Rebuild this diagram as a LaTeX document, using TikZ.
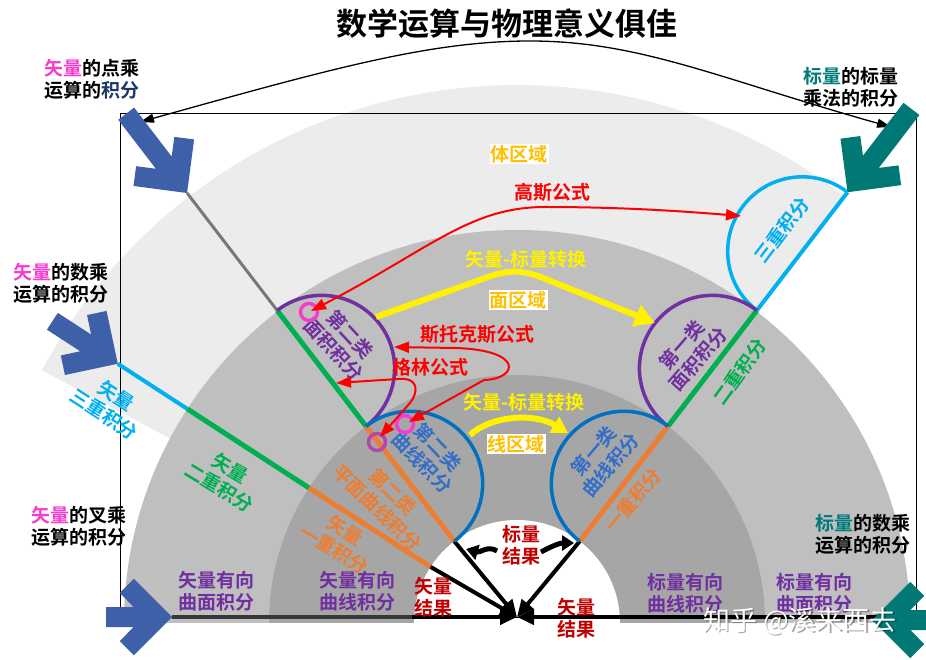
\documentclass[tikz,border=0pt]{standalone}
\usepackage{fontspec}
\setmainfont{Noto Sans CJK SC}[BoldFont={Noto Sans CJK SC Bold}]
\usetikzlibrary{arrows.meta,calc}
\definecolor{lgray}{RGB}{236,236,236}
\definecolor{mgray}{RGB}{191,191,191}
\definecolor{dgray}{RGB}{166,166,166}
\definecolor{linegray}{RGB}{120,120,120}
\definecolor{baseln}{RGB}{55,55,55}
\definecolor{magT}{RGB}{245,60,205}
\definecolor{tealT}{RGB}{0,122,122}
\definecolor{navyT}{RGB}{31,56,100}
\definecolor{purpleC}{RGB}{112,48,160}
\definecolor{blueC}{RGB}{0,112,192}
\definecolor{blueT}{RGB}{52,110,200}
\definecolor{cyanC}{RGB}{0,176,240}
\definecolor{greenC}{RGB}{0,176,80}
\definecolor{orangeC}{RGB}{237,125,49}
\definecolor{darkredT}{RGB}{192,0,0}
\definecolor{regionT}{RGB}{255,192,0}
\definecolor{arrowblue}{RGB}{62,96,168}
\definecolor{arrowteal}{RGB}{0,120,118}
\definecolor{pinkC}{RGB}{245,60,205}
\definecolor{pinkP}{RGB}{180,70,170}
\newcommand\blockarrow[4]{%
\begin{scope}[shift={#1},rotate=#2]
\fill[#4] (0,0) -- (-38.2,38.2) -- (-52.3,24.1) -- (-38.3,10) -- (-#3,10) -- (-#3,-10) -- (-38.3,-10) -- (-52.3,-24.1) -- (-38.2,-38.2) -- cycle;
\end{scope}}
\tikzset{
  lab/.style={font=\bfseries\fontsize{19}{22}\selectfont, align=center, inner sep=0pt},
  blk/.style={line width=4, black, -{Triangle[length=17pt,width=15pt]}},
  redarr/.style={line width=2, red, {Triangle[length=15pt,width=11pt]}-{Triangle[length=15pt,width=11pt]}},
  ylw/.style={line width=6, yellow, -{Triangle[length=20pt,width=22pt]}},
  curl/.style={line width=5, black, -{Triangle[length=12pt,width=15pt]}},
  semi/.style={line width=3.5},
  pink/.style={line width=3.5, pinkC}
}
\begin{document}
\begin{tikzpicture}[x=1pt,y=1pt,line join=round]
\useasboundingbox (0,0) rectangle (926,659);
\coordinate (C) at (517,36);
\coordinate (T) at (517,42);
\foreach \n/\a/\r in {A1/127.5/103, A2/127.5/248, A3/127.5/394, A4/127.5/542,
                      B1/52.5/103, B2/52.5/248, B3/52.5/394, B4/52.5/543,
                      D1/147/103, D2/147/248, D3/147/393, D4/147/476}
  \coordinate (\n) at ($(C)+(\a:\r)$);
% regions
\begin{scope}
\clip (0,37) rectangle (926,659);
\fill[lgray] (C) -- ($(C)+(52.5:538)$) arc[start angle=52.5,end angle=152,radius=538] -- cycle;
\fill[mgray] ($(C)+(393,0)$) arc[start angle=0,end angle=180,radius=393] -- cycle;
\fill[dgray] ($(C)+(248,0)$) arc[start angle=0,end angle=180,radius=248] -- cycle;
\fill[white] ($(C)+(103,0)$) arc[start angle=0,end angle=180,radius=103] -- cycle;
\end{scope}
% frame
\draw[line width=0.8] (120,42) rectangle (916,546);
% baseline
\coordinate (L1) at (172,42);
\coordinate (L0) at (412,42);
\coordinate (R0) at (913,42);
\draw[line width=4.5, baseln] (L1) -- (L0);
\draw[blk] (L0) -- (T);
\draw[blk] (R0) -- (T);
% radial lines
\draw[line width=3, linegray] (A3) -- (A4);
\draw[line width=5, greenC] (A2) -- (A3);
\draw[line width=5, orangeC] (A1) -- (A2);
\draw[blk] (A1) -- (T);
\draw[line width=4, cyanC] (B3) -- (B4);
\draw[line width=5, greenC] (B2) -- (B3);
\draw[line width=5, orangeC] (B1) -- (B2);
\draw[blk] (B1) -- (T);
\draw[line width=4, cyanC] (D3) -- (D4);
\draw[line width=5, greenC] (D2) -- (D3);
\draw[line width=5, orangeC] (D1) -- (D2);
\draw[blk] (D1) -- (T);
% semicircles
\draw[semi, cyanC] (B4) arc[start angle=52.5,end angle=232.5,radius=74.5];
\draw[semi, purpleC] (B3) arc[start angle=52.5,end angle=232.5,radius=73];
\draw[semi, blueC] (B2) arc[start angle=52.5,end angle=232.5,radius=72.5];
\draw[semi, purpleC] (A3) arc[start angle=127.5,end angle=-52.5,radius=73];
\draw[semi, blueC] (A2) arc[start angle=127.5,end angle=-52.5,radius=72.5];
% title and corner labels
\node[font=\bfseries\fontsize{31}{36}\selectfont, inner sep=0pt] (title) at (507,635) {数学运算与物理意义俱佳};
\node[lab] (tl) at (92,580) {{\color{magT}矢量}的点乘\\运算的{\color{navyT}积分}};
\node[lab] (tr) at (851,572) {{\color{tealT}标量}的标量\\乘法的积分};
\node[lab] (ml) at (61,376) {{\color{magT}矢量}的数乘\\运算的积分};
\node[lab] (ll) at (79,133) {{\color{magT}矢量}的叉乘\\运算的积分};
\node[lab] (lr) at (863,125) {{\color{tealT}标量}的数乘\\运算的积分};
% top arrow
\coordinate (TA) at (140,537);
\coordinate (TB) at (891,532);
\draw[line width=1.3, {Triangle[length=14pt,width=9pt]}-{Triangle[length=14pt,width=9pt]}]
  (TA) .. controls (330,590) and (430,618) .. (530,618) .. controls (640,618) and (720,580) .. (TB);
% region labels
\node[lab, text=regionT, fill=white, inner sep=1pt] (vol) at (519,505) {体区域};
\node[lab, text=regionT, fill=white, inner sep=1pt] (surf) at (518,359) {面区域};
\node[lab, text=regionT, fill=white, inner sep=1pt] (line) at (516,215) {线区域};
% rotated labels
\node[lab, text=cyanC, rotate=53] (t3r) at (782,429) {三重积分};
\node[lab, text=purpleC, rotate=49] (s1r) at (690,307) {第一类\\面积积分};
\node[lab, text=blueT, rotate=50] (c1r) at (602,201) {第一类\\曲线积分};
\node[lab, text=greenC, rotate=54] (d2r) at (740,287) {二重积分};
\node[lab, text=orangeC, rotate=50] (d1r) at (633,159) {一重积分};
\node[lab, text=purpleC, rotate=-47] (s2l) at (342,317) {第二类\\面积积分};
\node[lab, text=blueT, rotate=-46] (c2l) at (430,204) {第二类\\曲线积分};
\node[lab, text=orangeC, rotate=-44] (p2l) at (385,159) {第二类\\平面曲线积分};
\node[lab, text=orangeC, rotate=-31] (v1l) at (340,119) {矢量\\一重积分};
\node[lab, text=greenC, rotate=-31] (v2l) at (225,181) {矢量\\二重积分};
\node[lab, text=cyanC, rotate=-33] (v3l) at (110,254) {矢量\\三重积分};
% bottom labels
\node[lab, text=purpleC] (b1) at (216,68) {矢量有向\\曲面积分};
\node[lab, text=purpleC] (b2) at (357,68) {矢量有向\\曲线积分};
\node[lab, text=purpleC] (b3) at (685,66) {标量有向\\曲线积分};
\node[lab, text=purpleC] (b4) at (814,66) {标量有向\\曲面积分};
\node[lab, text=darkredT] (sr) at (521,114) {标量\\结果};
\node[lab, text=darkredT] (vr1) at (433,62) {矢量\\结果};
\node[lab, text=darkredT] (vr2) at (576,41) {矢量\\结果};
% curled arrows
\draw[curl] (497,108) .. controls (488,114) and (480,106) .. (466,110);
\draw[curl] (541,107) .. controls (552,113) and (560,116) .. (574,116);
% pink circles
\draw[pink] (309,347) circle[radius=8.5];
\draw[pink] (405,235) circle[radius=8.5];
\draw[line width=3.5, pinkP] (377,217) circle[radius=8.5];
% formula labels and arrows
\node[lab, text=red] (gauss) at (552,467) {高斯公式};
\node[lab, text=red] (stokes) at (477,325) {斯托克斯公式};
\node[lab, text=red] (green) at (430,292) {格林公式};
\draw[redarr] (311,348) .. controls (430,410) and (470,452) .. (545,452) .. controls (620,452) and (680,448) .. (741,443);
\draw[redarr] (394,312) -- (455,311) .. controls (525,309) and (518,280) .. (484,279) -- (409,237);
\draw[redarr] (336,276) -- (398,280) .. controls (420,282) and (418,266) .. (410,256) -- (380,222);
\node[lab, text=yellow] (conv1) at (526,400) {矢量-标量转换};
\node[lab, text=yellow] (conv2) at (524,257) {矢量-标量转换};
\draw[ylw] (376,342) -- (488,382) .. controls (510,390) and (525,389) .. (548,379) -- (655,336);
\draw[ylw, -{Triangle[length=16pt,width=18pt]}] (470,224) .. controls (492,244) and (535,246) .. (568,226);
% block arrows
\blockarrow{(A4)}{-52.5}{100}{arrowblue}
\blockarrow{(D4)}{-33}{78}{arrowblue}
\blockarrow{(L1)}{0}{66}{arrowblue}
\blockarrow{(B4)}{232.5}{105}{arrowteal}
\blockarrow{(872,39)}{180}{62}{arrowteal}
% watermark
\node[font=\fontsize{27}{30}\selectfont, text=black, opacity=0.35, inner sep=0pt] at (801.5,36.5) {知乎 @溪来西去};
\node[font=\fontsize{27}{30}\selectfont, text=white, inner sep=0pt] (wm) at (800,38) {知乎 @溪来西去};
\end{tikzpicture}
\end{document}
